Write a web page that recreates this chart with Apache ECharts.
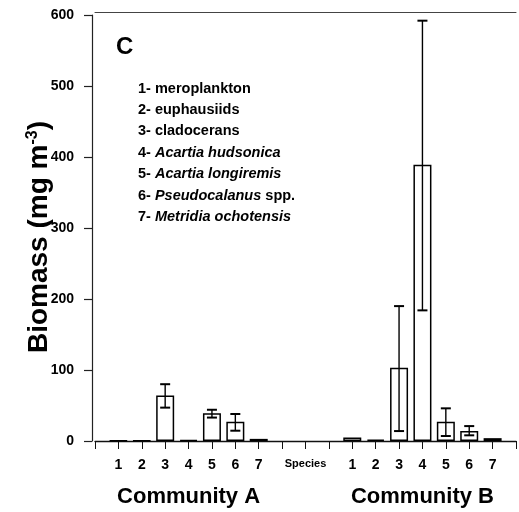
<!DOCTYPE html>
<html>
<head>
<meta charset="utf-8">
<script src="https://cdn.jsdelivr.net/npm/echarts@6/dist/echarts.min.js"></script>
<style>
html,body{margin:0;padding:0;background:#fff;}
#chart{width:519px;height:512px;}
</style>
</head>
<body>
<div id="chart"></div>
<script>
// ---- data ----
var tickLabels = ["", "1", "2", "3", "4", "5", "6", "7", "", "Species", "", "1", "2", "3", "4", "5", "6", "7", ""];
var communityLabels = ["", "", "", "", "Community A", "", "", "", "", "", "", "", "", "", "Community B", "", "", "", ""];
var valuesA = [0.5, 0.5, 64, 1.5, 39, 27, 3];
var valuesB = [5, 2, 103, 389, 27, 14, 4];
var errLowA  = [null, null, 47, null, 33, 14.5, null];
var errHighA = [null, null, 80, null, 44, 38, null];
var errLowB  = [null, null, 14, 184, 7, 8, null];
var errHighB = [null, null, 190, 592, 46, 21, null];
var yTicks = [0, 100, 200, 300, 400, 500, 600];
var legendLines = [
  ["1- meroplankton"],
  ["2- euphausiids"],
  ["3- cladocerans"],
  ["4- ", "{i|Acartia hudsonica}"],
  ["5- ", "{i|Acartia longiremis}"],
  ["6- ", "{i|Pseudocalanus}", " spp."],
  ["7- ", "{i|Metridia ochotensis}"]
];

// ---- build ----
var offsetA = 1, offsetB = 11;
var barData = tickLabels.map(function(){ return null; });
valuesA.forEach(function(v,i){ barData[offsetA+i] = v; });
valuesB.forEach(function(v,i){ barData[offsetB+i] = v; });
var errData = [];
errLowA.forEach(function(l,i){ if(l!=null) errData.push([offsetA+i, l, errHighA[i]]); });
errLowB.forEach(function(l,i){ if(l!=null) errData.push([offsetB+i, l, errHighB[i]]); });

var chart = echarts.init(document.getElementById('chart'), null, {renderer:'canvas'});
var ff = 'Liberation Sans, Arial, sans-serif';
var option = {
  animation: false,
  backgroundColor: '#fff',
  textStyle: {fontFamily: ff, color: '#000'},
  grid: {left: 95, right: -7, top: 15, bottom: 71, containLabel: false},
  xAxis: [{
    type: 'category', data: tickLabels, boundaryGap: false, position: 'bottom',
    axisLine: {show: true, lineStyle: {color: '#111', width: 1.3}},
    axisTick: {show: true, length: 8, lineStyle: {color: '#111', width: 1}},
    axisLabel: {interval: 0, margin: 17, fontFamily: ff, fontSize: 14, fontWeight: 'bold', color: '#000',
      formatter: function(v){ return v === 'Species' ? '{s|Species}' : v; },
      rich: {s: {fontSize: 11, fontWeight: 'bold', fontFamily: ff, color: '#000'}}},
    splitLine: {show: false}
  }, {
    type: 'category', data: communityLabels, boundaryGap: false, position: 'bottom',
    axisLine: {show: false}, axisTick: {show: false}, splitLine: {show: false},
    axisLabel: {interval: 0, margin: 45, fontFamily: ff, fontSize: 22, fontWeight: 'bold', color: '#000'}
  }, {
    type: 'category', data: tickLabels, boundaryGap: false, position: 'top', offset: 3,
    axisLine: {show: true, lineStyle: {color: '#444', width: 1}},
    axisTick: {show: false}, axisLabel: {show: false}, splitLine: {show: false}
  }],
  yAxis: {
    type: 'value', min: yTicks[0], max: yTicks[yTicks.length-1], interval: 100, offset: 3,
    name: 'Biomass (mg m{sup|-3})', nameLocation: 'middle', nameGap: 39, nameMoveOverlap: false,
    nameTextStyle: {fontFamily: ff, fontSize: 28, fontWeight: 'bold', color: '#000', padding: [0, 18, 0, 0],
      rich: {sup: {fontSize: 16, fontWeight: 'bold', fontFamily: ff, color: '#000', verticalAlign: 'top', lineHeight: 14, padding: [0,0,13,0]}}},
    axisLine: {show: true, lineStyle: {color: '#222', width: 1.2}},
    axisTick: {show: true, length: 8, lineStyle: {color: '#222', width: 1.2}},
    axisLabel: {margin: 18, fontFamily: ff, fontSize: 14, fontWeight: 'bold', color: '#000'},
    splitLine: {show: false}
  },
  series: [{
    type: 'bar', data: barData, barWidth: 18, xAxisIndex: 0,
    itemStyle: {color: '#fff', borderColor: '#000', borderWidth: 1.5}
  }, {
    type: 'custom', xAxisIndex: 0, data: errData, z: 5,
    renderItem: function(params, api){
      var lo = api.coord([api.value(0), api.value(1)]);
      var hi = api.coord([api.value(0), api.value(2)]);
      var cw = 5;
      var st = {stroke: '#000', lineWidth: 1.4};
      return {type: 'group', children: [
        {type: 'line', shape: {x1: hi[0], y1: hi[1], x2: lo[0], y2: lo[1]}, style: st},
        {type: 'line', shape: {x1: hi[0]-cw, y1: hi[1], x2: hi[0]+cw, y2: hi[1]}, style: {stroke:'#000', lineWidth: 2}},
        {type: 'line', shape: {x1: lo[0]-cw, y1: lo[1], x2: lo[0]+cw, y2: lo[1]}, style: {stroke:'#000', lineWidth: 2}}
      ]};
    }
  }],
  graphic: [{
    type: 'text', left: 116, top: 35,
    style: {text: 'C', font: 'bold 24px ' + ff, fill: '#000'}
  }, {
    type: 'text', left: 138, top: 81,
    style: {
      text: legendLines.map(function(p){ return p.map(function(s){ return s.charAt(0) === '{' ? s : '{n|' + s + '}'; }).join(''); }).join('\n'),
      rich: {
        n: {fontFamily: ff, fontSize: 14.5, fontWeight: 'bold', fill: '#000', lineHeight: 21.4},
        i: {fontFamily: ff, fontSize: 14.5, fontWeight: 'bold', fontStyle: 'italic', fill: '#000', lineHeight: 21.4}
      }
    }
  }]
};
chart.setOption(option);
</script>
</body>
</html>
